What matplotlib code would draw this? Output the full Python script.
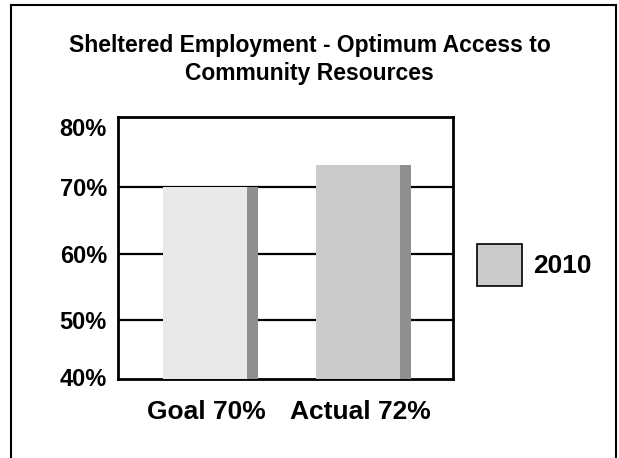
import matplotlib
matplotlib.use("Agg")
import matplotlib.pyplot as plt
import matplotlib.transforms as mtransforms
from matplotlib.patches import Patch
from matplotlib.lines import Line2D

plt.rcParams['font.family'] = ['Liberation Sans', 'DejaVu Sans']
plt.rcParams['font.weight'] = 'bold'

categories = ["Goal 70%", "Actual 72%"]
values = [70.0, 73.3]
front_colors = ["#E9E9E9", "#CBCBCB"]
side_color = "#8F8F8F"
yticks = [40, 50, 60, 70, 80]
ytick_labels = ["40%", "50%", "60%", "70%", "80%"]
title = "Sheltered Employment - Optimum Access to\nCommunity Resources"
legend_label = "2010"

W, H = 619, 458
fig = plt.figure(figsize=(W/100, H/100), dpi=100)
ax = fig.add_axes([118/W, 1-379/H, (453-118)/W, (379-117)/H])

front_w = 0.547
side_w = 0.07
ymin, ymax = 41.13, 80.53
for i, (v, c) in enumerate(zip(values, front_colors)):
    ax.bar(i, v - ymin, bottom=ymin, width=front_w, color=c, zorder=3, linewidth=0)
    ax.bar(i + front_w/2 + side_w/2, v - ymin, bottom=ymin, width=side_w,
           color=side_color, zorder=3, linewidth=0)

# the bottom label sits on the lower edge of the plot area
tick_pos = [max(v, ymin) for v in yticks]
ax.set_yticks(tick_pos)
ax.set_yticklabels(ytick_labels, fontsize=17, fontweight='bold')
ax.set_xticks([i + 0.01 for i in range(len(categories))])
ax.set_xticklabels(categories, fontsize=19, fontweight='bold')
ax.set_xlim(-0.567, 1.616)
ax.set_ylim(ymin, ymax)
ax.tick_params(axis='both', length=0)
ax.tick_params(axis='y', pad=8)
ax.tick_params(axis='x', pad=15)
ax.yaxis.grid(True, color='black', linewidth=1.6, zorder=1)
ax.set_axisbelow(True)
for s in ax.spines.values():
    s.set_linewidth(2)
    s.set_color('black')

ticks = ax.yaxis.get_major_ticks()
for t, val in zip(ticks, yticks):
    shift = {80: -6.5, 40: 2.0}.get(val)
    if shift is not None:
        off = mtransforms.ScaledTranslation(0, shift/100, fig.dpi_scale_trans)
        t.label1.set_transform(t.label1.get_transform() + off)
        t.gridline.set_visible(False)

fig.text(0.5, 1-59.5/H, title, ha='center', va='center', fontsize=16.5,
         fontweight='bold', linespacing=1.24)

handle = Patch(facecolor="#CBCBCB", edgecolor='black', linewidth=1.2)
fig.legend([handle], [legend_label], loc='center left',
           bbox_to_anchor=(453/W, 1-265/H), frameon=False,
           prop={'size': 19, 'weight': 'bold'}, handlelength=1.7,
           handleheight=2.07, handletextpad=0.42)

# outer border
for xs, ys in [([11/W, 11/W], [0, 1-5/H]),
               ([11/W, 616/W], [1-5/H, 1-5/H]),
               ([616/W, 616/W], [0, 1-5/H])]:
    fig.add_artist(Line2D(xs, ys, transform=fig.transFigure,
                          color='black', linewidth=1.5))

fig.savefig("out.png", dpi=100)
